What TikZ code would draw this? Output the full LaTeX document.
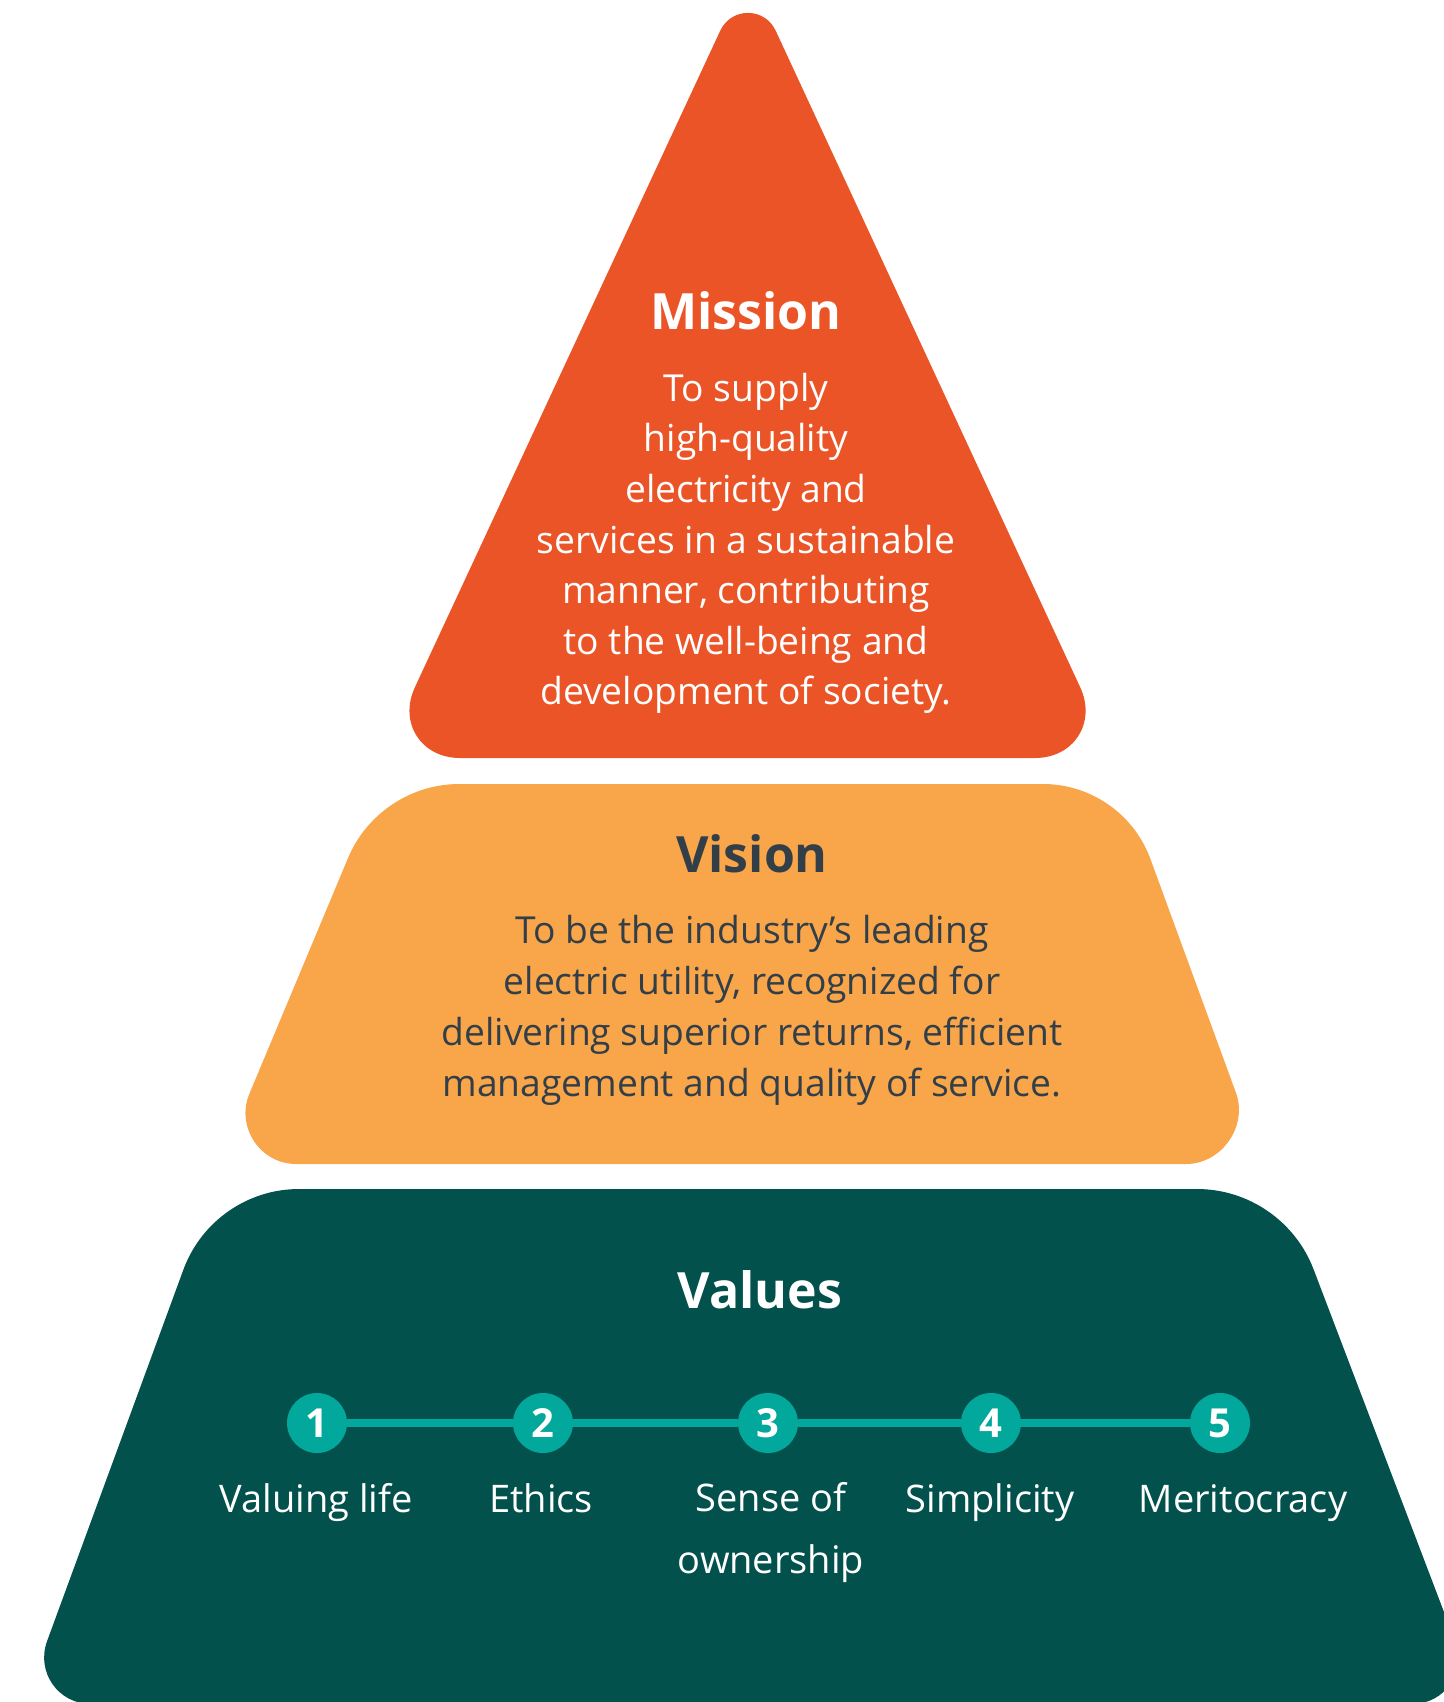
\documentclass[tikz,border=0pt]{standalone}
\usepackage{fontspec}
\setmainfont{Open Sans}
\usetikzlibrary{calc}
\definecolor{missionfill}{HTML}{EA5426}
\definecolor{visionfill}{HTML}{F9A64A}
\definecolor{valuesfill}{HTML}{03514D}
\definecolor{tealdot}{HTML}{02A89B}
\definecolor{visiontext}{HTML}{323E48}
\begin{document}
\begin{tikzpicture}[x=0.5pt,y=-0.5pt,
  title/.style={font=\bfseries\fontsize{25}{30}\selectfont, inner sep=0pt},
  body/.style={align=center, inner sep=0pt},
  lbl/.style={font=\fontsize{19}{31}\selectfont, text=white, inner sep=0pt, align=center},
  num/.style={circle, fill=tealdot, minimum size=30pt, inner sep=0pt, text=white, font=\bfseries\fontsize{20}{24}\selectfont},
  link/.style={draw=tealdot, line width=4pt}]
\useasboundingbox (0,0) rectangle (1444,1702);
\clip (0,0) rectangle (1444,1702);
% ---------- Mission triangle
\coordinate (mA) at (748,-29);
\coordinate (mL) at (382,758);
\coordinate (mR) at (1113,758);
\coordinate (mAl) at ($(mA)!33pt!(mL)$);
\coordinate (mAr) at ($(mA)!33pt!(mR)$);
\coordinate (mLa) at ($(mL)!39pt!(mA)$);
\coordinate (mLr) at ($(mL)!39pt!(mR)$);
\coordinate (mRl) at ($(mR)!39pt!(mL)$);
\coordinate (mRa) at ($(mR)!39pt!(mA)$);
\fill[missionfill] (mLr) -- (mRl)
  .. controls ($(mRl)!.5!(mR)$) and ($(mRa)!.5!(mR)$) .. (mRa) -- (mAr)
  .. controls ($(mAr)!.4!(mA)$) and ($(mAl)!.4!(mA)$) .. (mAl) -- (mLa)
  .. controls ($(mLa)!.5!(mL)$) and ($(mLr)!.5!(mL)$) .. (mLr) -- cycle;
% ---------- Vision trapezoid
\coordinate (vTL) at (379,784);
\coordinate (vTR) at (1123,784);
\coordinate (vBR) at (1262,1164);
\coordinate (vBL) at (220,1164);
\coordinate (vTLb) at ($(vTL)!40pt!(vBL)$);
\coordinate (vTLr) at ($(vTL)!40pt!(vTR)$);
\coordinate (vTRl) at ($(vTR)!40pt!(vTL)$);
\coordinate (vTRb) at ($(vTR)!40pt!(vBR)$);
\coordinate (vBRt) at ($(vBR)!38pt!(vTR)$);
\coordinate (vBRl) at ($(vBR)!38pt!(vBL)$);
\coordinate (vBLr) at ($(vBL)!38pt!(vBR)$);
\coordinate (vBLt) at ($(vBL)!38pt!(vTL)$);
\fill[visionfill] (vTLr) -- (vTRl)
  .. controls ($(vTRl)!.6!(vTR)$) and ($(vTRb)!.6!(vTR)$) .. (vTRb) -- (vBRt)
  .. controls ($(vBRt)!.47!(vBR)$) and ($(vBRl)!.47!(vBR)$) .. (vBRl) -- (vBLr)
  .. controls ($(vBLr)!.47!(vBL)$) and ($(vBLt)!.47!(vBL)$) .. (vBLt) -- (vTLb)
  .. controls ($(vTLb)!.6!(vTL)$) and ($(vTLr)!.6!(vTL)$) .. (vTLr) -- cycle;
% ---------- Values trapezoid
\coordinate (wTL) at (213,1189);
\coordinate (wTR) at (1283,1189);
\coordinate (wBR) at (1479,1704);
\coordinate (wBL) at (24,1704);
\coordinate (wTLb) at ($(wTL)!43pt!(wBL)$);
\coordinate (wTLr) at ($(wTL)!43pt!(wTR)$);
\coordinate (wTRl) at ($(wTR)!43pt!(wTL)$);
\coordinate (wTRb) at ($(wTR)!43pt!(wBR)$);
\coordinate (wBRt) at ($(wBR)!33.5pt!(wTR)$);
\coordinate (wBRl) at ($(wBR)!33.5pt!(wBL)$);
\coordinate (wBLr) at ($(wBL)!33.5pt!(wBR)$);
\coordinate (wBLt) at ($(wBL)!33.5pt!(wTL)$);
\fill[valuesfill] (wTLr) -- (wTRl)
  .. controls ($(wTRl)!.6!(wTR)$) and ($(wTRb)!.6!(wTR)$) .. (wTRb) -- (wBRt)
  .. controls ($(wBRt)!.49!(wBR)$) and ($(wBRl)!.49!(wBR)$) .. (wBRl) -- (wBLr)
  .. controls ($(wBLr)!.49!(wBL)$) and ($(wBLt)!.49!(wBL)$) .. (wBLt) -- (wTLb)
  .. controls ($(wTLb)!.6!(wTL)$) and ($(wTLr)!.6!(wTL)$) .. (wTLr) -- cycle;
% ---------- Texts
\node[title, text=white] (missiont) at (746,311) {Mission};
\node[body, text=white, font=\fontsize{18.6}{25.3}\selectfont] (missionb) at (746,543.5)
  {To supply\\high-quality\\electricity and\\services in a sustainable\\manner, contributing\\to the well-being and\\development of society.};
\node[title, text=visiontext] (visiont) at (752,854) {Vision};
\node[body, text=visiontext, font=\fontsize{18.6}{25.5}\selectfont] (visionb) at (752,1010.5)
  {To be the industry’s leading\\electric utility, recognized for\\delivering superior returns, efficient\\management and quality of service.};
\node[title, text=white] (valuest) at (760,1290) {Values};
% ---------- Values line
\node[num] (c1) at (317,1423) {1};
\node[num] (c2) at (543,1423) {2};
\node[num] (c3) at (768,1423) {3};
\node[num] (c4) at (991,1423) {4};
\node[num] (c5) at (1220,1423) {5};
\draw[link] (c1) -- (c2);
\draw[link] (c2) -- (c3);
\draw[link] (c3) -- (c4);
\draw[link] (c4) -- (c5);
\node[lbl, anchor=base] (l1) at (316,1512) {Valuing life};
\node[lbl, anchor=base] (l2) at (541,1512) {Ethics};
\node[lbl] (l3) at (771,1533) {Sense of\\ownership};
\node[lbl, anchor=base] (l4) at (990,1512) {Simplicity};
\node[lbl, anchor=base] (l5) at (1243,1512) {Meritocracy};
\end{tikzpicture}
\end{document}
